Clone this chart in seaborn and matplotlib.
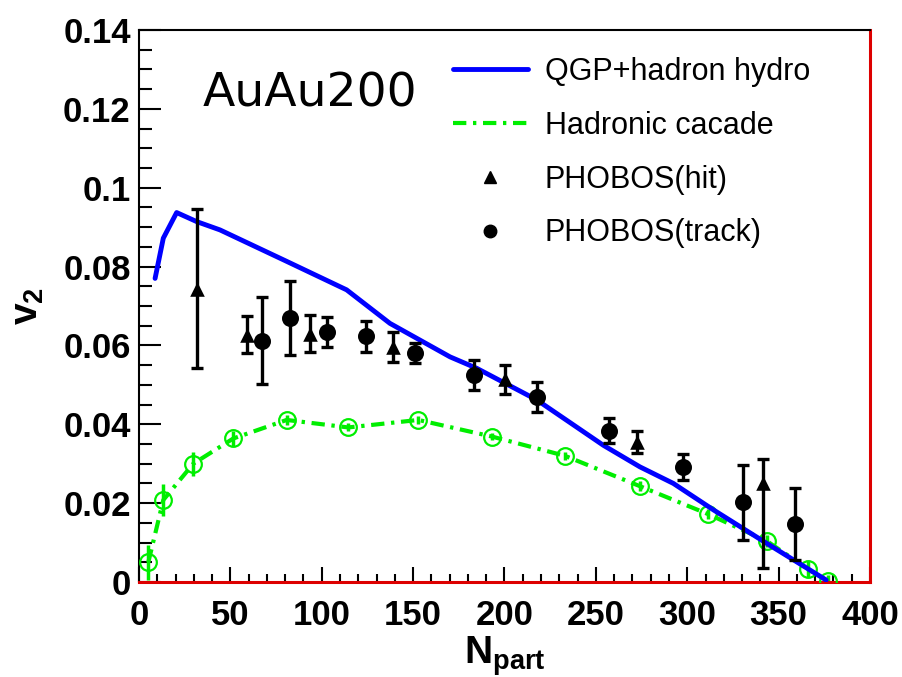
import numpy as np
import pandas as pd
import matplotlib
matplotlib.use("Agg")
import matplotlib.pyplot as plt
from matplotlib.lines import Line2D
from matplotlib.ticker import MultipleLocator, FuncFormatter
import seaborn as sns

# ---------------- data ----------------
hydro_npart = [8.8, 13.3, 20.6, 31.6, 44.3, 80.0, 113.6, 137.3, 170.2, 184.8, 217.6, 254.0, 274.1, 292.4, 314.3, 343.5, 376.0]
hydro_v2 = [0.0770, 0.0872, 0.0937, 0.0914, 0.0893, 0.0815, 0.0741, 0.0656, 0.0571, 0.0542, 0.0462, 0.0347, 0.0292, 0.0250, 0.0183, 0.0098, 0.0005]

cascade_npart = [5.1, 13.3, 29.7, 51.6, 80.8, 114.5, 152.9, 193.0, 233.1, 274.1, 311.5, 343.5, 366.2, 377.2]
cascade_v2 = [0.0050, 0.0208, 0.0300, 0.0364, 0.0411, 0.0392, 0.0411, 0.0369, 0.0320, 0.0243, 0.0172, 0.0104, 0.0032, 0.0002]
cascade_err = [0.0045, 0.0040, 0.0030, 0.0020, 0.0012, 0.0010, 0.0010, 0.0010, 0.0010, 0.0012, 0.0012, 0.0015, 0.0020, 0.0015]

hit_npart = [31.6, 58.9, 93.6, 139.2, 200.3, 272.3, 341.3]
hit_v2 = [0.0744, 0.0627, 0.0630, 0.0597, 0.0514, 0.0355, 0.0250]
hit_err_lo = [0.0202, 0.0047, 0.0046, 0.0038, 0.0037, 0.0029, 0.0214]
hit_err_hi = [0.0202, 0.0047, 0.0046, 0.0038, 0.0037, 0.0029, 0.0061]

track_npart = [67.1, 82.6, 102.7, 124.2, 151.0, 183.3, 218.0, 257.3, 297.8, 330.3, 359.0]
track_v2 = [0.0612, 0.0670, 0.0634, 0.0623, 0.0581, 0.0525, 0.0469, 0.0384, 0.0292, 0.0202, 0.0147]
track_err = [0.0110, 0.0094, 0.0037, 0.0040, 0.0026, 0.0038, 0.0039, 0.0031, 0.0033, 0.0095, 0.0091]

labels = ["QGP+hadron hydro", "Hadronic cacade", "PHOBOS(hit)", "PHOBOS(track)"]

# ---------------- style ----------------
sns.set_theme(style="white")
plt.rcParams["font.family"] = ["Liberation Sans", "DejaVu Sans"]
plt.rcParams["mathtext.fontset"] = "custom"
plt.rcParams["mathtext.bf"] = "Liberation Sans:bold"
plt.rcParams["mathtext.rm"] = "Liberation Sans"
plt.rcParams["text.color"] = "black"
plt.rcParams["axes.labelcolor"] = "black"
plt.rcParams["xtick.color"] = "black"
plt.rcParams["ytick.color"] = "black"

fig = plt.figure(figsize=(9.03, 6.77), dpi=100)
ax = fig.add_axes([139 / 903, 1 - 582 / 677, (870 - 139) / 903, (582 - 30) / 677])

hydro = pd.DataFrame({"Npart": hydro_npart, "v2": hydro_v2})
casc = pd.DataFrame({"Npart": cascade_npart, "v2": cascade_v2, "err": cascade_err})
hit = pd.DataFrame({"Npart": hit_npart, "v2": hit_v2})
track = pd.DataFrame({"Npart": track_npart, "v2": track_v2, "err": track_err})

green = "#00ee00"
dashdot = (0, (3.2, 1.6, 0.8, 1.6))

# cascade
ax.errorbar(casc["Npart"], casc["v2"], yerr=casc["err"], fmt="none",
            ecolor=green, elinewidth=2.5, capsize=0, zorder=2)
sns.lineplot(data=casc, x="Npart", y="v2", ax=ax, color=green, lw=3,
             linestyle=dashdot, sort=False, estimator=None, zorder=2)
ax.plot(casc["Npart"], casc["v2"], linestyle="none", marker="o", ms=12,
        mfc="none", mec=green, mew=1.6, zorder=3)

# hydro
sns.lineplot(data=hydro, x="Npart", y="v2", ax=ax, color="#0000ff", lw=3.5,
             sort=False, estimator=None, zorder=4)

# PHOBOS data
ax.errorbar(hit["Npart"], hit["v2"], yerr=[hit_err_lo, hit_err_hi], fmt="none",
            ecolor="black", elinewidth=2.4, capsize=4.5, capthick=2.4, zorder=5)
ax.errorbar(track["Npart"], track["v2"], yerr=track["err"], fmt="none",
            ecolor="black", elinewidth=2.4, capsize=4.5, capthick=2.4, zorder=5)
sns.scatterplot(data=hit, x="Npart", y="v2", ax=ax, marker="^", s=110,
                color="black", edgecolor="black", linewidth=0, zorder=6)
sns.scatterplot(data=track, x="Npart", y="v2", ax=ax, marker="o", s=150,
                color="black", edgecolor="black", linewidth=0, zorder=6)

# axes
ax.set_xlim(0, 400)
ax.set_ylim(0, 0.14)
ax.xaxis.set_major_locator(MultipleLocator(50))
ax.xaxis.set_minor_locator(MultipleLocator(10))
ax.yaxis.set_major_locator(MultipleLocator(0.02))
ax.yaxis.set_minor_locator(MultipleLocator(0.005))


def yfmt(v, pos):
    if abs(v) < 1e-9:
        return "0"
    return ("%.2f" % v).rstrip("0")


ax.yaxis.set_major_formatter(FuncFormatter(yfmt))
ax.tick_params(axis="both", which="both", direction="in", top=False, right=False,
               bottom=True, left=True, color="black", width=1.5,
               labelcolor="black")
ax.tick_params(axis="y", which="major", length=16, pad=6)
ax.tick_params(axis="y", which="minor", length=9)
ax.tick_params(axis="x", which="major", length=11, pad=12)
ax.tick_params(axis="x", which="minor", length=5.5)
for lab in ax.get_xticklabels() + ax.get_yticklabels():
    lab.set_fontweight("bold")
    lab.set_fontsize(25)

for side in ["left", "top"]:
    ax.spines[side].set_color("black")
    ax.spines[side].set_linewidth(1.5)
for side in ["right", "bottom"]:
    ax.spines[side].set_color("#dd0000")
    ax.spines[side].set_linewidth(2.2)

ax.set_xlabel(r"$\mathbf{N_{part}}$", fontsize=28, labelpad=2, color="black")
ax.set_ylabel(r"$\mathbf{v_{2}}$", fontsize=28, labelpad=12, color="black")

ax.text(35, 0.1205, "AuAu200", fontsize=34, family="DejaVu Sans", color="black")

handles = [
    Line2D([], [], color="#0000ff", lw=3.5),
    Line2D([], [], color=green, lw=3, linestyle=dashdot),
    Line2D([], [], color="black", marker="^", linestyle="none", ms=8),
    Line2D([], [], color="black", marker="o", linestyle="none", ms=9),
]
leg = ax.legend(handles, labels, loc="upper left",
                bbox_to_anchor=((453 - 139) / 731, (582 - 57) / 552),
                frameon=False, fontsize=22, handlelength=2.45, handletextpad=0.55,
                labelspacing=0.78, borderpad=0, borderaxespad=0)
for t in leg.get_texts():
    t.set_color("black")

fig.savefig("out.png", dpi=100)
